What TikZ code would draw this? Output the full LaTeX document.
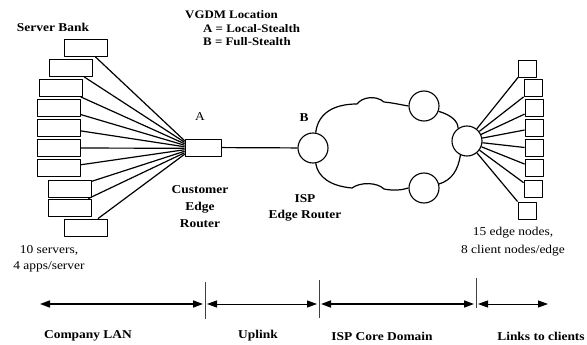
\documentclass[tikz,border=0pt]{standalone}
\usepackage{fontspec}
\setmainfont{Liberation Serif}[FakeStretch=1.12]
\usepackage{tikz}
\usetikzlibrary{arrows.meta,positioning}
\newcommand{\lblfont}{\fontsize{12}{17}\selectfont}

\begin{document}
\begin{tikzpicture}[x=1pt,y=-1pt,line join=round,font=\lblfont,
  >={Triangle[length=10pt,width=7pt]},
  srv/.style={draw,line width=0.8pt,minimum width=43pt,minimum height=17pt,inner sep=0pt},
  enode/.style={draw,line width=0.8pt,minimum width=18pt,minimum height=17pt,inner sep=0pt},
  rtr/.style={draw,circle,line width=1.1pt,minimum size=30pt,inner sep=0pt},
  lnk/.style={line width=1.2pt},
  lbl/.style={font=\lblfont\bfseries,align=center,inner sep=0pt},
  key/.style={lbl,anchor=west,font=\fontsize{11.5}{12}\selectfont\bfseries},
  txt/.style={font=\lblfont,align=center,inner sep=0pt}]
  \useasboundingbox (0,0) rectangle (587,345);
  % server bank and customer edge router
  \foreach \k/\x/\y in {1/86/48,2/70.5/68,3/61/88,4/58.5/108,5/58.5/127.5,
      6/58.5/148,7/58.5/168,8/69.5/188.5,9/69.5/207.5,10/86/227.5}
    \node[srv] (s\k) at (\x,\y) {};
  \node[draw,line width=0.8pt,minimum width=36pt,minimum height=17pt,inner sep=0pt] (cer) at (203,147.5) {};
  \foreach \k in {1,...,10}
    \draw[lnk] (s\k) -- ([yshift={(5.5-\k)*1.5pt}]cer.west);
  % ISP cloud
  \node[rtr] (isp) at (313,148) {};
  \node[rtr] (ctop) at (424,106) {};
  \node[rtr] (cbot) at (424,188) {};
  \node[rtr] (cedge) at (467,141) {};
  \draw[lnk] (cer) -- (isp);
  \draw[lnk] (isp.80) .. controls (318,113) and (334,104) .. (357,104)
    .. controls (362,97) and (376,95) .. (384,102)
    .. controls (394,103) and (402,105) .. (ctop.west);
  \draw[lnk] (ctop.-20) .. controls (451,115) and (458,121) .. (cedge.125);
  \draw[lnk] (cedge.-115) .. controls (458,170) and (452,180) .. (cbot.15);
  \draw[lnk] (isp.-80) .. controls (318,177) and (330,186) .. (352,188)
    .. controls (360,182) and (377,182) .. (384,189)
    .. controls (394,191) and (402,190) .. (cbot.west);
  % edge nodes
  \foreach \k/\x/\y in {1/527.5/68.5,2/533/88,3/534/107.5,4/534/127.5,
      5/534/147.5,6/534/167.5,7/533/189,8/527/210.5}
    \node[enode] (e\k) at (\x,\y) {};
  \foreach \k/\a in {1/south west,2/south west,3/215,4/195,5/180,6/160,7/146,8/north west}
    \draw[lnk] (cedge) -- (e\k.\a);
  % labels
  \node[lbl] (bank) at (53,27) {Server Bank};
  \node[key] (vgdm) at (185,15) {VGDM Location};
  \node[key] (vgda) at (203,29) {A = Local-Stealth};
  \node[key] (vgdb) at (203,42) {B = Full-Stealth};
  \node[txt] (la) at (200,117) {A};
  \node[lbl] (lb) at (304,118) {B};
  \node[lbl] (cername) at (200,207) {Customer\\Edge\\Router};
  \node[lbl,font=\fontsize{12}{16}\selectfont\bfseries] (ispname) at (305,208) {ISP\\Edge Router};
  \node[txt,font=\fontsize{12}{16}\selectfont] (srvnote) at (49,259) {10 servers,\\4 apps/server};
  \node[txt,font=\fontsize{12}{18}\selectfont] (edgenote) at (513,242) {15 edge nodes,\\8 client nodes/edge};
  % domains along the bottom
  \coordinate (d0) at (40,304);
  \coordinate (d1) at (205,304);
  \coordinate (d2) at (319,304);
  \coordinate (d3) at (476,304);
  \coordinate (d4) at (548,304);
  \draw[black!75,line width=0.7pt] (205,282) -- (205,319);
  \draw[black!75,line width=0.7pt] (319,280) -- (319,318);
  \draw[black!75,line width=0.7pt] (476,278) -- (476,308);
  \draw[<->,line width=1.6pt] (d0) -- ([xshift=-2pt]d1);
  \draw[<->,line width=0.9pt] ([xshift=2pt]d1) -- ([xshift=-2pt]d2);
  \draw[<->,line width=1.6pt] ([xshift=2pt]d2) -- ([xshift=-2pt]d3);
  \draw[<->,line width=0.9pt] ([xshift=2pt]d3) -- (d4);
  \node[lbl] (lan) at (88,336) {Company LAN};
  \node[lbl] (up) at (258,336) {Uplink};
  \node[lbl] (core) at (382,336) {ISP Core Domain};
  \node[lbl] (cli) at (541,336) {Links to clients};
\end{tikzpicture}
\end{document}
